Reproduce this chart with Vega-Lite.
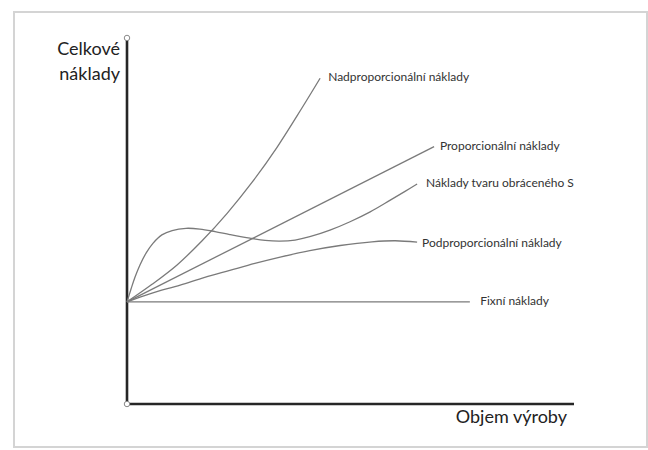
{
  "$schema": "https://vega.github.io/schema/vega-lite/v6.json",
  "width": 633,
  "height": 435,
  "autosize": {"type": "none"},
  "padding": {"left": 14, "top": 12, "right": 1, "bottom": 3},
  "background": "white",
  "config": {
    "view": {"stroke": "#d4d4d4", "strokeWidth": 2},
    "text": {"font": "Lato"}
  },
  "datasets": {
    "curves": [
      {"series": "Fixní", "x": 0, "y": 27.9},
      {"series": "Fixní", "x": 76.7, "y": 27.9},
      {"series": "Proporcionální", "x": 0, "y": 27.9},
      {"series": "Proporcionální", "x": 68.7, "y": 70.3},
      {"series": "Nadproporcionální", "x": 0, "y": 27.9},
      {"series": "Nadproporcionální", "x": 5.6, "y": 32.7},
      {"series": "Nadproporcionální", "x": 11.2, "y": 38.0},
      {"series": "Nadproporcionální", "x": 16.8, "y": 44.6},
      {"series": "Nadproporcionální", "x": 22.4, "y": 52.1},
      {"series": "Nadproporcionální", "x": 28.0, "y": 60.6},
      {"series": "Nadproporcionální", "x": 33.6, "y": 70.2},
      {"series": "Nadproporcionální", "x": 39.1, "y": 80.8},
      {"series": "Nadproporcionální", "x": 43.2, "y": 89.0},
      {"series": "S", "x": 0, "y": 27.9},
      {"series": "S", "x": 0.9, "y": 31.4},
      {"series": "S", "x": 1.8, "y": 34.7},
      {"series": "S", "x": 2.9, "y": 38.0},
      {"series": "S", "x": 4.3, "y": 41.3},
      {"series": "S", "x": 5.8, "y": 43.9},
      {"series": "S", "x": 7.8, "y": 46.2},
      {"series": "S", "x": 10.1, "y": 47.4},
      {"series": "S", "x": 13.2, "y": 48.0},
      {"series": "S", "x": 16.3, "y": 47.8},
      {"series": "S", "x": 19.7, "y": 47.1},
      {"series": "S", "x": 23.0, "y": 46.3},
      {"series": "S", "x": 27.5, "y": 45.3},
      {"series": "S", "x": 30.9, "y": 44.7},
      {"series": "S", "x": 34.2, "y": 44.5},
      {"series": "S", "x": 37.6, "y": 44.8},
      {"series": "S", "x": 40.9, "y": 45.7},
      {"series": "S", "x": 45.4, "y": 47.5},
      {"series": "S", "x": 49.9, "y": 49.8},
      {"series": "S", "x": 54.4, "y": 52.5},
      {"series": "S", "x": 58.9, "y": 55.7},
      {"series": "S", "x": 62.2, "y": 58.1},
      {"series": "S", "x": 64.9, "y": 60.1},
      {"series": "Podproporcionální", "x": 0, "y": 27.9},
      {"series": "Podproporcionální", "x": 5.1, "y": 30.1},
      {"series": "Podproporcionální", "x": 11.9, "y": 32.5},
      {"series": "Podproporcionální", "x": 17.4, "y": 34.6},
      {"series": "Podproporcionální", "x": 23.0, "y": 36.5},
      {"series": "Podproporcionální", "x": 28.6, "y": 38.4},
      {"series": "Podproporcionální", "x": 34.5, "y": 40.2},
      {"series": "Podproporcionální", "x": 40.9, "y": 41.9},
      {"series": "Podproporcionální", "x": 47.7, "y": 43.3},
      {"series": "Podproporcionální", "x": 54.8, "y": 44.3},
      {"series": "Podproporcionální", "x": 60.0, "y": 44.6},
      {"series": "Podproporcionální", "x": 64.9, "y": 44.2}
    ],
    "labels": [
      {"text": "Nadproporcionální náklady", "x": 45.0, "y": 89.3},
      {"text": "Proporcionální náklady", "x": 70.0, "y": 70.5},
      {"text": "Náklady tvaru obráceného S", "x": 66.9, "y": 60.4},
      {"text": "Podproporcionální náklady", "x": 66.0, "y": 44.0},
      {"text": "Fixní náklady", "x": 79.0, "y": 28.1}
    ],
    "axes": [
      {"x": 0, "y": 0, "x2": 0, "y2": 100},
      {"x": 0, "y": 0, "x2": 100, "y2": 0}
    ],
    "ends": [
      {"x": 0, "y": 100},
      {"x": 0, "y": 0}
    ],
    "titles": [
      {"text": ["Celkové", "náklady"], "x": 0, "y": 95.4},
      {"text": "Objem výroby", "x": 100, "y": -5.2}
    ]
  },
  "layer": [
    {
      "data": {"name": "axes"},
      "mark": {"type": "rule", "color": "#262626", "strokeWidth": 2.6},
      "encoding": {
        "x": {"field": "x", "type": "quantitative", "scale": {"domain": [-25.28, 116.33], "nice": false, "zero": false}, "axis": null},
        "y": {"field": "y", "type": "quantitative", "scale": {"domain": [-11.75, 107.1], "nice": false, "zero": false}, "axis": null},
        "x2": {"field": "x2"},
        "y2": {"field": "y2"}
      }
    },
    {
      "data": {"name": "curves"},
      "mark": {"type": "line", "interpolate": "catmull-rom", "color": "#7a7a7a", "strokeWidth": 1.3},
      "encoding": {
        "x": {"field": "x", "type": "quantitative"},
        "y": {"field": "y", "type": "quantitative"},
        "detail": {"field": "series"}
      }
    },
    {
      "data": {"name": "ends"},
      "mark": {"type": "point", "shape": "circle", "filled": true, "fill": "white", "stroke": "#8a8a8a", "strokeWidth": 1, "size": 30, "opacity": 1},
      "encoding": {
        "x": {"field": "x", "type": "quantitative"},
        "y": {"field": "y", "type": "quantitative"}
      }
    },
    {
      "data": {"name": "labels"},
      "mark": {"type": "text", "align": "left", "baseline": "middle", "fontSize": 12, "color": "#333333"},
      "encoding": {
        "x": {"field": "x", "type": "quantitative"},
        "y": {"field": "y", "type": "quantitative"},
        "text": {"field": "text"}
      }
    },
    {
      "data": {"name": "titles"},
      "mark": {"type": "text", "align": "right", "baseline": "alphabetic", "fontSize": 18, "lineHeight": 25, "dx": -7, "color": "#222222"},
      "encoding": {
        "x": {"field": "x", "type": "quantitative"},
        "y": {"field": "y", "type": "quantitative"},
        "text": {"field": "text"}
      }
    }
  ]
}
